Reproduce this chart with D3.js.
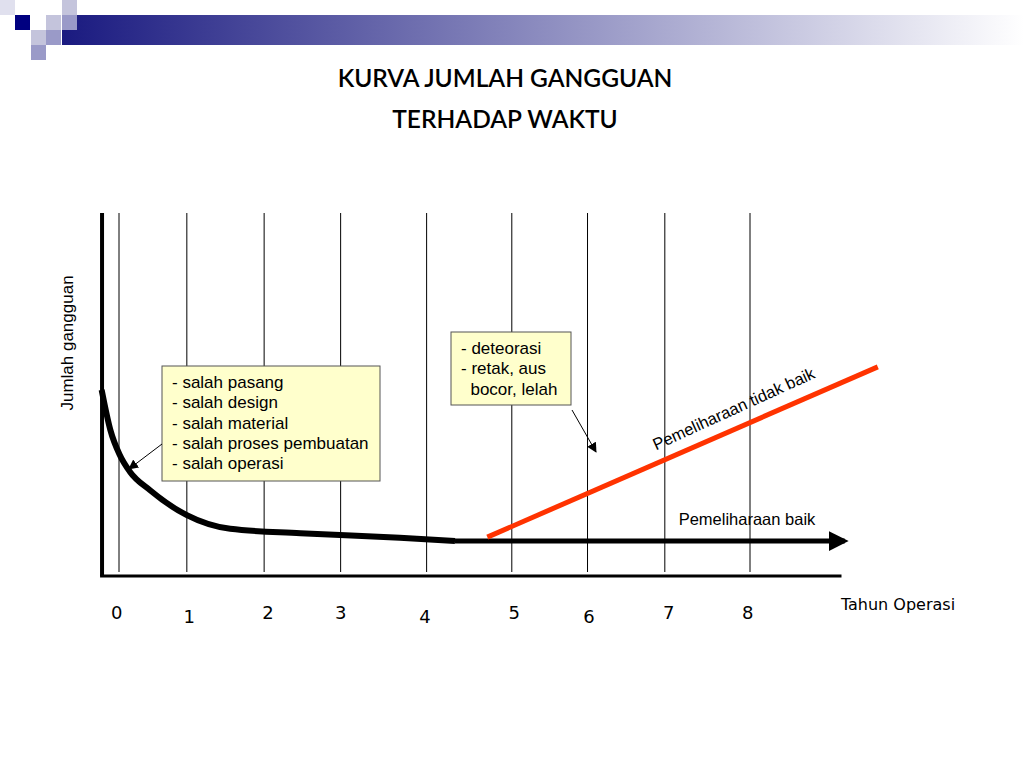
<!DOCTYPE html>
<html><head><meta charset="utf-8">
<script src="https://cdn.jsdelivr.net/npm/d3@7"></script>
<style>body{margin:0;background:#fff}</style></head>
<body>
<script>
// chart values (x in operating years, y in relative failure count)
var yearLabels = ['0','1','2','3','4','5','6','7','8'];
var labelYears = [-0.03,0.89,1.89,2.81,3.88,5.01,5.96,6.97,7.97];
var labelLow = [false,true,false,false,true,false,true,false,false];
var gridYears = [0,0.86,1.84,2.81,3.9,4.98,5.94,6.92,8];
var curveX = [-0.22,-0.11,0.01,0.14,0.39,0.86,1.41,2.3,3.56,4.26];
var curveY = [5.17,4.06,3.36,2.89,2.39,1.69,1.31,1.19,1.06,0.97];
var goodX = [4.26,9.2], goodY = [0.97,0.97];
var badX = [4.67,9.62], badY = [1.08,5.81];
var causes1 = ['- salah pasang','- salah design','- salah material','- salah proses pembuatan','- salah operasi'];
var causes2 = ['- deteorasi','- retak, aus','  bocor, lelah'];

var svg = d3.select('body').append('svg').attr('width',1024).attr('height',768);

// header decoration
var defs = svg.append('defs');
var g = defs.append('linearGradient').attr('id','hb');
g.append('stop').attr('offset','0%').attr('stop-color','#1a1a80');
g.append('stop').attr('offset','100%').attr('stop-color','#ffffff');
svg.append('rect').attr('x',62).attr('y',15).attr('width',962).attr('height',30).attr('fill','url(#hb)');
[[0,0,'#e0e0ee'],[15,15,'#000080'],[46,15,'#c4c4dc'],[62,0,'#c4c4dc'],[62,15,'#9a9ac8'],[31,30,'#c4c4dc'],[46,30,'#9a9ac8'],[31,45,'#9a9ac8']].forEach(function(s){
  svg.append('rect').attr('x',s[0]).attr('y',s[1]).attr('width',15).attr('height',15).attr('fill',s[2]);
});

svg.append('text').attr('x',505).attr('y',87).attr('text-anchor','middle').attr('font-family','Lato').attr('font-weight',600).attr('font-size',24.5).text('KURVA JUMLAH GANGGUAN');
svg.append('text').attr('x',505).attr('y',128).attr('text-anchor','middle').attr('font-family','Lato').attr('font-weight',600).attr('font-size',24.5).text('TERHADAP WAKTU');

var x = d3.scaleLinear().domain([0,8]).range([119,750]);
var y = d3.scaleLinear().domain([0,10]).range([576,216]);

svg.selectAll('.grid').data(gridYears).enter().append('line')
  .attr('x1',function(d){return x(d);}).attr('x2',function(d){return x(d);})
  .attr('y1',213).attr('y2',572).attr('stroke','#000').attr('stroke-width',1);

// axes
svg.append('line').attr('x1',x(-0.215)).attr('x2',x(-0.215)).attr('y1',y(10.08)).attr('y2',y(0)).attr('stroke','#000').attr('stroke-width',4);
svg.append('line').attr('x1',x(-0.24)).attr('x2',x(9.16)).attr('y1',y(0)).attr('y2',y(0)).attr('stroke','#000').attr('stroke-width',3);

svg.selectAll('.yl').data(yearLabels).enter().append('text')
  .attr('x',function(d,i){return x(labelYears[i]);})
  .attr('y',function(d,i){return labelLow[i]?623:619;})
  .attr('text-anchor','middle').attr('font-family','DejaVu Sans').attr('font-size',18).text(function(d){return d;});
svg.append('text').attr('x',898).attr('y',610).attr('text-anchor','middle').attr('font-family','DejaVu Sans').attr('font-size',16).text('Tahun Operasi');
svg.append('text').attr('transform','translate(73,343) rotate(-90)').attr('text-anchor','middle').attr('font-family','Liberation Sans').attr('font-size',17).text('Jumlah gangguan');

var line = d3.line().x(function(d){return x(d[0]);}).y(function(d){return y(d[1]);});
svg.append('path').datum(d3.zip(curveX,curveY)).attr('d',line.curve(d3.curveMonotoneX)).attr('fill','none').attr('stroke','#000').attr('stroke-width',6);

defs.append('marker').attr('id','big').attr('viewBox','0 0 10 10').attr('refX',8).attr('refY',5)
  .attr('markerWidth',4).attr('markerHeight',4).attr('markerUnits','strokeWidth').attr('orient','auto')
  .append('path').attr('d','M0,0L10,5L0,10Z').attr('fill','#000');
defs.append('marker').attr('id','small').attr('viewBox','0 0 10 10').attr('refX',9).attr('refY',5)
  .attr('markerWidth',10).attr('markerHeight',10).attr('markerUnits','userSpaceOnUse').attr('orient','auto')
  .append('path').attr('d','M0,0L10,5L0,10Z').attr('fill','#000');

svg.append('path').datum(d3.zip(goodX,goodY)).attr('d',d3.line().x(function(d){return x(d[0]);}).y(function(d){return y(d[1]);}))
  .attr('stroke','#000').attr('stroke-width',5).attr('marker-end','url(#big)');
svg.append('path').datum(d3.zip(badX,badY)).attr('d',d3.line().x(function(d){return x(d[0]);}).y(function(d){return y(d[1]);}))
  .attr('stroke','#ff3300').attr('stroke-width',5);

svg.append('text').attr('x',747).attr('y',525).attr('text-anchor','middle').attr('font-family','Liberation Sans').attr('font-size',16.5).text('Pemeliharaan baik');
svg.append('text').attr('transform','translate(736,414) rotate(-24.5)').attr('text-anchor','middle').attr('font-family','Liberation Sans').attr('font-size',16.5).text('Pemeliharaan tidak baik');

function box(bx,by,w,h,lines,tx){
  svg.append('rect').attr('x',bx).attr('y',by).attr('width',w).attr('height',h).attr('fill','#ffffcc').attr('stroke','#555');
  svg.selectAll(null).data(lines).enter().append('text').attr('x',bx+tx).attr('y',function(d,i){return by+22+i*20.3;})
    .attr('font-family','Liberation Sans').attr('font-size',17).attr('xml:space','preserve').style('white-space','pre').text(function(d){return d;});
}
box(162,366,218,115,causes1,10);
box(451,332,120,73,causes2,10);
svg.append('line').attr('x1',162).attr('y1',444).attr('x2',129).attr('y2',469).attr('stroke','#000').attr('marker-end','url(#small)');
svg.append('line').attr('x1',572).attr('y1',410).attr('x2',596).attr('y2',452).attr('stroke','#000').attr('marker-end','url(#small)');
</script>
</body></html>
